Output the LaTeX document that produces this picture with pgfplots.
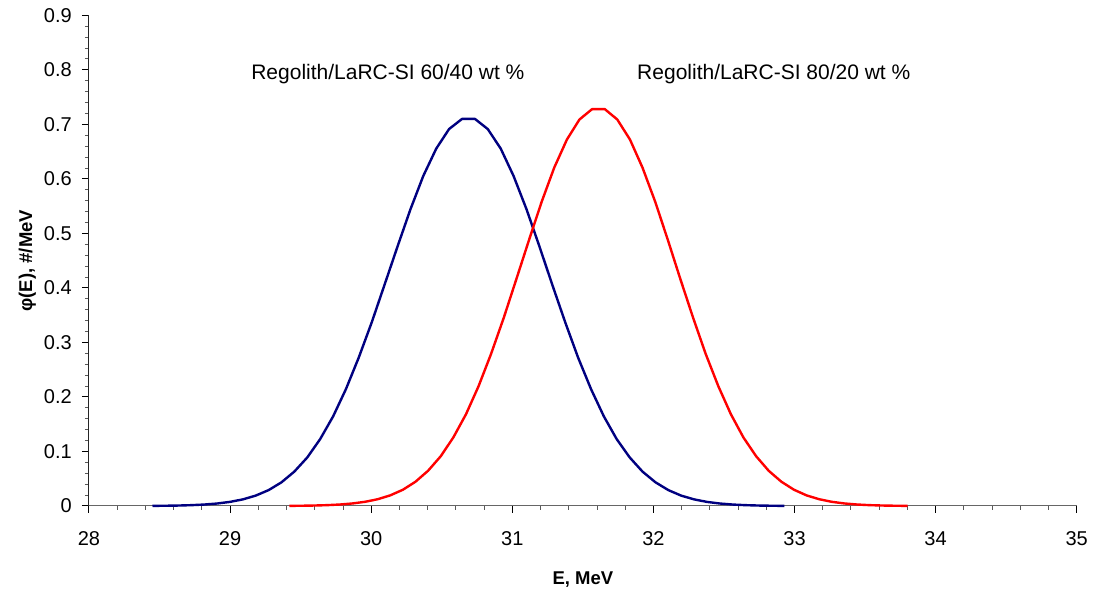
\documentclass[border=0pt]{standalone}
\usepackage{fontspec}
\setmainfont{Liberation Sans}
\usepackage{pgfplots}
\pgfplotsset{compat=1.18}
\begin{document}
\begin{tikzpicture}
\path[use as bounding box] (-89pt,-87pt) rectangle (1006pt,506pt);
\begin{axis}[
  scale only axis,
  width=987.7pt, height=490.7pt,
  xmin=28, xmax=35, ymin=0, ymax=0.9,
  axis x line=bottom, axis y line=left,
  axis line style={-, line width=1pt},
  x axis line style={gray!80!black},
  y axis line style={black!85},
  xtick={28,29,...,35},
  ytick={0,0.1,...,0.9},
  minor x tick num=4, minor y tick num=4,
  tick align=outside,
  major tick length=7pt, minor tick length=4pt,
  tick style={line width=1pt, black},
  minor tick style={line width=0.9pt, black!65},
  /pgf/number format/assume math mode=true,
  /pgf/number format/fixed,
  /pgf/number format/precision=1,
  tick label style={font=\fontsize{20}{24}\selectfont},
  yticklabel style={anchor=east, inner sep=0pt, xshift=-10pt},
  xticklabel style={anchor=north, inner sep=0pt, yshift=-18pt},
  xlabel={E, MeV},
  ylabel={φ(E), \#/MeV},
  label style={font=\bfseries\fontsize{18.5}{22}\selectfont},
  xlabel style={at={(axis description cs:0.5,-0.159)}, anchor=base},
  ylabel style={at={(axis description cs:-0.0577,0.5)}, anchor=base},
  clip=false,
]
\addplot[color={rgb,255:red,0;green,0;blue,128}, line width=2.4pt, line join=round] coordinates {
(28.450,0.00024)(28.541,0.00046)(28.633,0.00084)(28.724,0.00152)(28.816,0.00265)
(28.907,0.00453)(28.998,0.00750)(29.090,0.01210)(29.181,0.01902)(29.273,0.02913)
(29.364,0.04341)(29.455,0.06304)(29.547,0.08905)(29.638,0.1226)(29.730,0.1643)
(29.821,0.2144)(29.912,0.2724)(30.004,0.3370)(30.095,0.4061)(30.187,0.4763)
(30.278,0.5441)(30.369,0.6053)(30.461,0.6555)(30.552,0.6914)(30.644,0.7100)
(30.735,0.7100)(30.826,0.6914)(30.918,0.6555)(31.009,0.6053)(31.101,0.5441)
(31.192,0.4763)(31.283,0.4061)(31.375,0.3370)(31.466,0.2724)(31.558,0.2144)
(31.649,0.1643)(31.740,0.1226)(31.832,0.08905)(31.923,0.06304)(32.015,0.04341)
(32.106,0.02913)(32.197,0.01902)(32.289,0.01210)(32.380,0.00750)(32.472,0.00453)
(32.563,0.00265)(32.654,0.00152)(32.746,0.00084)(32.837,0.00046)(32.929,0.00024)
};
\addplot[color=red, line width=2.4pt, line join=round] coordinates {
(29.420,0.00025)(29.509,0.00047)(29.599,0.00087)(29.688,0.00156)(29.778,0.00272)
(29.867,0.00464)(29.956,0.00769)(30.046,0.01241)(30.135,0.01950)(30.225,0.02987)
(30.314,0.04451)(30.403,0.06463)(30.493,0.0913)(30.582,0.1257)(30.672,0.1684)
(30.761,0.2198)(30.850,0.2793)(30.940,0.3456)(31.029,0.4163)(31.119,0.4883)
(31.208,0.5579)(31.297,0.6205)(31.387,0.6721)(31.476,0.7089)(31.566,0.7280)
(31.655,0.7280)(31.744,0.7089)(31.834,0.6721)(31.923,0.6205)(32.013,0.5579)
(32.102,0.4883)(32.191,0.4163)(32.281,0.3456)(32.370,0.2793)(32.460,0.2198)
(32.549,0.1684)(32.638,0.1257)(32.728,0.0913)(32.817,0.06463)(32.907,0.04451)
(32.996,0.02987)(33.085,0.01950)(33.175,0.01241)(33.264,0.00769)(33.354,0.00464)
(33.443,0.00272)(33.532,0.00156)(33.622,0.00087)(33.711,0.00047)(33.801,0.00025)
};
\node[anchor=base west, inner sep=0pt, font=\fontsize{21}{25}\selectfont] at (axis cs:29.149,0.782) {Regolith/LaRC-SI 60/40 wt \%};
\node[anchor=base west, inner sep=0pt, font=\fontsize{21}{25}\selectfont] at (axis cs:31.884,0.782) {Regolith/LaRC-SI 80/20 wt \%};
\end{axis}
\end{tikzpicture}
\end{document}
